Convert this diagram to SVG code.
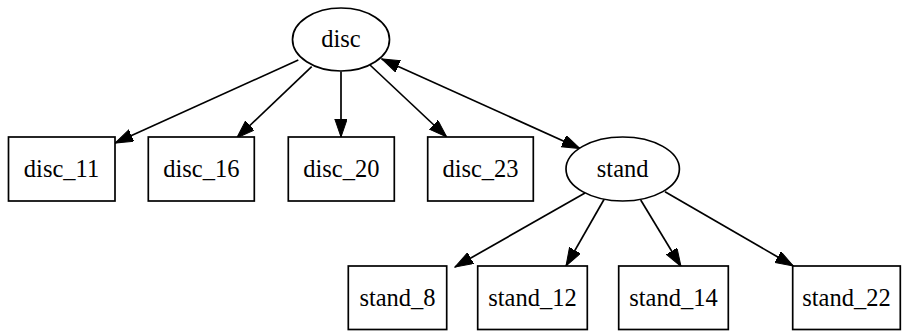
<svg xmlns="http://www.w3.org/2000/svg" width="903" height="331" viewBox="0 0 903 331">
<style>
.n{fill:#fff;stroke:#000;stroke-width:1.7}
.t{font-family:"Liberation Serif","Times New Roman",serif;font-size:24.5px;text-anchor:middle;fill:#000}
.e{stroke:#000;stroke-width:1.7;fill:none;marker-end:url(#ah)}
</style>
<defs>
<marker id="ah" markerUnits="userSpaceOnUse" markerWidth="19" markerHeight="13" refX="18" refY="6.2" orient="auto-start-reverse">
<path d="M0,0 L18,6.2 L0,12.4 z" fill="#000" stroke="#000" stroke-width="1"/>
</marker>
</defs>
<rect width="903" height="331" fill="#fff"/>
<g id="edges">
<line class="e" x1="298.3" y1="60" x2="115" y2="143"/>
<line class="e" x1="311.7" y1="66.7" x2="236.7" y2="138"/>
<line class="e" x1="341" y1="71.5" x2="341" y2="137"/>
<line class="e" x1="370" y1="65" x2="446.7" y2="137"/>
<line class="e" x1="381.7" y1="59" x2="580" y2="148.5" style="marker-start:url(#ah)"/>
<line class="e" x1="585" y1="193" x2="455" y2="267"/>
<line class="e" x1="604" y1="199.5" x2="566" y2="266"/>
<line class="e" x1="640.7" y1="200" x2="681" y2="266.5"/>
<line class="e" x1="665" y1="191.7" x2="793.3" y2="266"/>
</g>
<g id="disc"><ellipse class="n" cx="341" cy="39.5" rx="48.5" ry="31.5"/><text class="t" x="341" y="47">disc</text></g>
<g id="disc_11"><rect class="n" x="8.5" y="137" width="106.5" height="64"/><text class="t" x="61.5" y="177">disc_11</text></g>
<g id="disc_16"><rect class="n" x="148.3" y="137" width="106" height="64"/><text class="t" x="201.3" y="177">disc_16</text></g>
<g id="disc_20"><rect class="n" x="288.3" y="137" width="106" height="64"/><text class="t" x="341.3" y="177">disc_20</text></g>
<g id="disc_23"><rect class="n" x="427.7" y="137" width="105.6" height="64"/><text class="t" x="480.5" y="177">disc_23</text></g>
<g id="stand"><ellipse class="n" cx="622.7" cy="169" rx="56.7" ry="32"/><text class="t" x="622.7" y="177">stand</text></g>
<g id="stand_8"><rect class="n" x="348.3" y="266" width="98.4" height="63.5"/><text class="t" x="397.5" y="305.5">stand_8</text></g>
<g id="stand_12"><rect class="n" x="477.7" y="266" width="109.6" height="63.5"/><text class="t" x="532.5" y="305.5">stand_12</text></g>
<g id="stand_14"><rect class="n" x="618.7" y="266" width="109.6" height="63.5"/><text class="t" x="673.5" y="305.5">stand_14</text></g>
<g id="stand_22"><rect class="n" x="792.7" y="266" width="107.6" height="63.5"/><text class="t" x="846.5" y="305.5">stand_22</text></g>
</svg>
